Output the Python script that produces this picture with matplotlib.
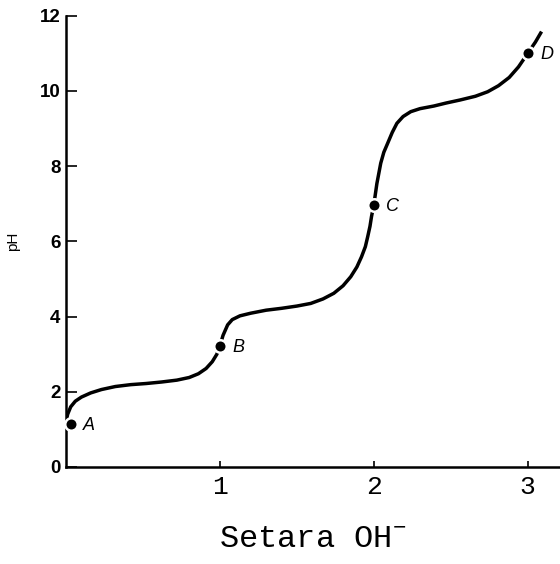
import matplotlib as mpl
mpl.use('Agg')
import matplotlib.pyplot as plt

# titration curve
curve_x = [0.00, 0.01, 0.03, 0.06, 0.10, 0.16, 0.23, 0.32, 0.42, 0.52, 0.62, 0.72,
           0.80, 0.86, 0.91, 0.95, 0.98, 1.00, 1.02, 1.05, 1.08, 1.13, 1.20, 1.30,
           1.40, 1.50, 1.59, 1.67, 1.74, 1.80, 1.85, 1.89, 1.92, 1.945, 1.96, 1.975,
           1.985, 2.00, 2.02, 2.045, 2.065, 2.09, 2.12, 2.15, 2.19, 2.24, 2.30, 2.39,
           2.47, 2.56, 2.66, 2.74, 2.81, 2.88, 2.94, 3.00, 3.05, 3.09]
curve_y = [1.20, 1.40, 1.60, 1.75, 1.86, 1.97, 2.06, 2.14, 2.19, 2.22, 2.26, 2.31,
           2.38, 2.48, 2.62, 2.80, 3.00, 3.22, 3.50, 3.78, 3.92, 4.02, 4.09, 4.17,
           4.22, 4.28, 4.35, 4.47, 4.62, 4.82, 5.06, 5.32, 5.59, 5.86, 6.12, 6.40,
           6.66, 6.97, 7.54, 8.08, 8.37, 8.61, 8.90, 9.14, 9.32, 9.45, 9.53, 9.60,
           9.68, 9.76, 9.86, 9.98, 10.14, 10.36, 10.64, 11.00, 11.30, 11.58]

point_names = ['A', 'B', 'C', 'D']
point_x = [0.03, 1.00, 2.00, 3.00]
point_y = [1.15, 3.22, 6.97, 11.00]

x_ticks = [1, 2, 3]
y_ticks = [0, 2, 4, 6, 8, 10, 12]

plt.rcParams['mathtext.fontset'] = 'custom'
plt.rcParams['mathtext.rm'] = 'Liberation Mono'

fig = plt.figure(figsize=(5.6, 5.64), dpi=100)
ax = fig.add_axes([0.118, 0.172, 0.882, 0.80])

ax.plot(curve_x, curve_y, color='black', lw=2.5, solid_capstyle='butt', zorder=2)
ax.plot(point_x, point_y, 'o', color='black', ms=9, mec='white', mew=1.8,
        clip_on=False, zorder=3)
for name, px, py in zip(point_names, point_x, point_y):
    ax.annotate(name, (px, py), xytext=(9, -1), textcoords='offset points',
                fontsize=13, style='italic', family='Liberation Sans',
                va='center', ha='left')

ax.set_xlim(0, 3.21)
ax.set_ylim(0, 12)
ax.spines['top'].set_visible(False)
ax.spines['right'].set_visible(False)
ax.spines['left'].set_linewidth(1.8)
ax.spines['bottom'].set_linewidth(1.8)

ax.set_xticks(x_ticks)
ax.set_yticks(y_ticks)
ax.tick_params(axis='y', direction='in', length=8, width=1.2, pad=4)
ax.tick_params(axis='x', direction='in', length=4, width=1.2, pad=6)
for lab in ax.get_yticklabels():
    lab.set_family('Liberation Sans')
    lab.set_fontweight('bold')
    lab.set_fontsize(13.5)
for lab in ax.get_xticklabels():
    lab.set_family(['Liberation Mono', 'DejaVu Sans Mono'])
    lab.set_fontsize(19)

ax.set_ylabel('pH', family='Liberation Sans', fontsize=11, labelpad=14)
ax.set_xlabel(r'Setara OH$^{-}$', family=['Liberation Mono', 'DejaVu Sans Mono'],
              fontsize=23, labelpad=18)

fig.savefig('out.png', dpi=100)
